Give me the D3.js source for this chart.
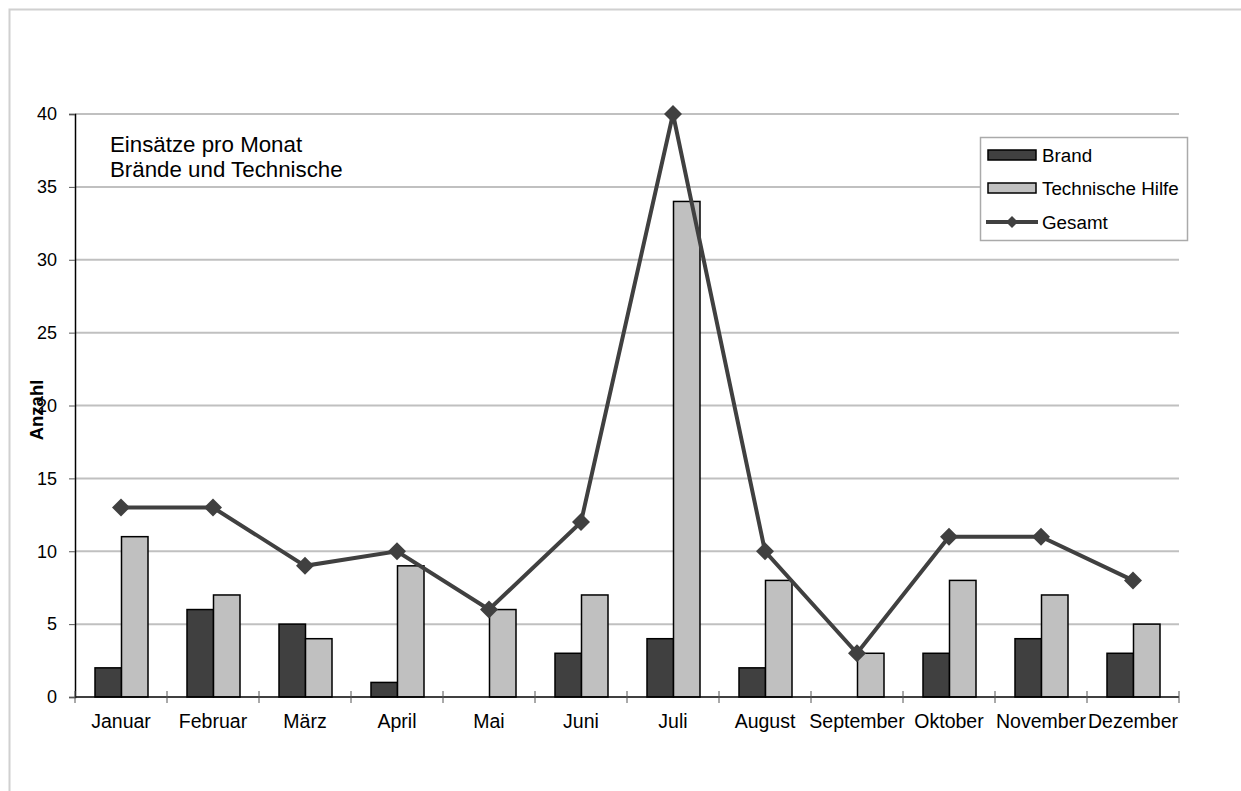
<!DOCTYPE html>
<html><head><meta charset="utf-8">
<script src="https://cdn.jsdelivr.net/npm/d3@7"></script>
<style>body{margin:0;background:#fff}svg{display:block;font-family:"Liberation Sans",Arial,sans-serif}</style>
</head><body><svg id="c" width="1241" height="791"></svg>
<script>
const months = ["Januar","Februar","März","April","Mai","Juni","Juli","August","September","Oktober","November","Dezember"];
const brand = [2,6,5,1,0,3,4,2,0,3,4,3];
const technische = [11,7,4,9,6,7,34,8,3,8,7,5];
const gesamt = [13,13,9,10,6,12,40,10,3,11,11,8];
const yTicks = [0,5,10,15,20,25,30,35,40];
const seriesNames = ["Brand","Technische Hilfe","Gesamt"];
const titleLines = ["Einsätze pro Monat","Brände und Technische"];

const svg = d3.select("#c");
const L = 75, R = 1179, T = 114, B = 697;
const x = d3.scaleBand().domain(months).range([L, R]).paddingInner(0).paddingOuter(0);
const y = d3.scaleLinear().domain([0, 40]).range([B, T]);

// outer frame
svg.append("path").attr("d", "M9.5,791 V9.5 H1241").attr("fill","none").attr("stroke","#d0d0d0").attr("stroke-width",2);

// gridlines
svg.append("g").selectAll("line").data(yTicks.filter(d=>d>0)).join("line")
  .attr("x1", L).attr("x2", R).attr("y1", d=>y(d)).attr("y2", d=>y(d))
  .attr("stroke", "#c0c0c0").attr("stroke-width", 2);

// y axis
const yAx = svg.append("g").attr("transform",`translate(${L},0)`)
  .call(d3.axisLeft(y).tickValues(yTicks).tickSize(6).tickPadding(12));
yAx.select(".domain").attr("stroke","#000").attr("stroke-width",1.5);
yAx.selectAll(".tick line").attr("stroke","#555");
yAx.selectAll("text").attr("font-size",18).attr("fill","#000").attr("font-family","Liberation Sans, Arial, sans-serif");

// bars
const bw = 26.5, off = 20;
const g = svg.append("g");
g.selectAll("rect.b").data(brand).join("rect").attr("class","b")
  .attr("x",(d,i)=>x(months[i])+off).attr("width",bw)
  .attr("y",d=>y(d)).attr("height",d=>B-y(d))
  .attr("fill","#404040").attr("stroke",d=>d>0?"#000":"none").attr("stroke-width",1.5);
g.selectAll("rect.t").data(technische).join("rect").attr("class","t")
  .attr("x",(d,i)=>x(months[i])+off+bw).attr("width",bw)
  .attr("y",d=>y(d)).attr("height",d=>B-y(d))
  .attr("fill","#c0c0c0").attr("stroke","#000").attr("stroke-width",1.5);

// x axis
const xAx = svg.append("g").attr("transform",`translate(0,${B})`);
xAx.append("line").attr("x1",L).attr("x2",R).attr("stroke","#000").attr("stroke-width",1.5);
const tickPos = months.map(m=>x(m)).concat([R]);
xAx.selectAll("line.tk").data(tickPos).join("line").attr("class","tk")
  .attr("x1",d=>d).attr("x2",d=>d).attr("y1",-6).attr("y2",6).attr("stroke","#555");
xAx.selectAll("text").data(months).join("text")
  .attr("x",d=>x(d)+x.bandwidth()/2).attr("y",31).attr("text-anchor","middle")
  .attr("font-size",19.5).attr("fill","#000").text(d=>d);

// line
const cx = i => x(months[i]) + x.bandwidth()/2;
const col = "#404040";
svg.append("path").datum(gesamt)
  .attr("d", d3.line().x((d,i)=>cx(i)).y(d=>y(d)))
  .attr("fill","none").attr("stroke",col).attr("stroke-width",4);
svg.append("g").selectAll("path").data(gesamt).join("path")
  .attr("transform",(d,i)=>`translate(${cx(i)},${y(d)})`)
  .attr("d","M0,-9 L9,0 L0,9 L-9,0 Z").attr("fill",col);

// title
svg.append("g").selectAll("text").data(titleLines).join("text")
  .attr("x",110).attr("y",(d,i)=>152+i*25).attr("font-size",22.3).attr("fill","#000").text(d=>d);

// y label
svg.append("text").attr("transform","translate(43,410) rotate(-90)").attr("text-anchor","middle")
  .attr("font-size",18.5).attr("font-weight","bold").attr("fill","#000").text("Anzahl");

// legend
const lg = svg.append("g");
lg.append("rect").attr("x",980.5).attr("y",137.5).attr("width",207).attr("height",103)
  .attr("fill","#fff").attr("stroke","#aaa").attr("stroke-width",1.5);
const ly = [155, 188, 222];
lg.append("rect").attr("x",988).attr("y",ly[0]-5).attr("width",48).attr("height",10).attr("fill","#404040").attr("stroke","#000").attr("stroke-width",1.5);
lg.append("rect").attr("x",988).attr("y",ly[1]-5).attr("width",48).attr("height",10).attr("fill","#c0c0c0").attr("stroke","#000").attr("stroke-width",1.5);
lg.append("line").attr("x1",986).attr("x2",1038).attr("y1",ly[2]).attr("y2",ly[2]).attr("stroke",col).attr("stroke-width",4);
lg.append("path").attr("transform",`translate(1012,${ly[2]})`).attr("d","M0,-6 L6,0 L0,6 L-6,0 Z").attr("fill",col);
lg.selectAll("text").data(seriesNames).join("text")
  .attr("x",1042).attr("y",(d,i)=>ly[i]+7).attr("font-size",18.8).attr("fill","#000").text(d=>d);
</script></body></html>
